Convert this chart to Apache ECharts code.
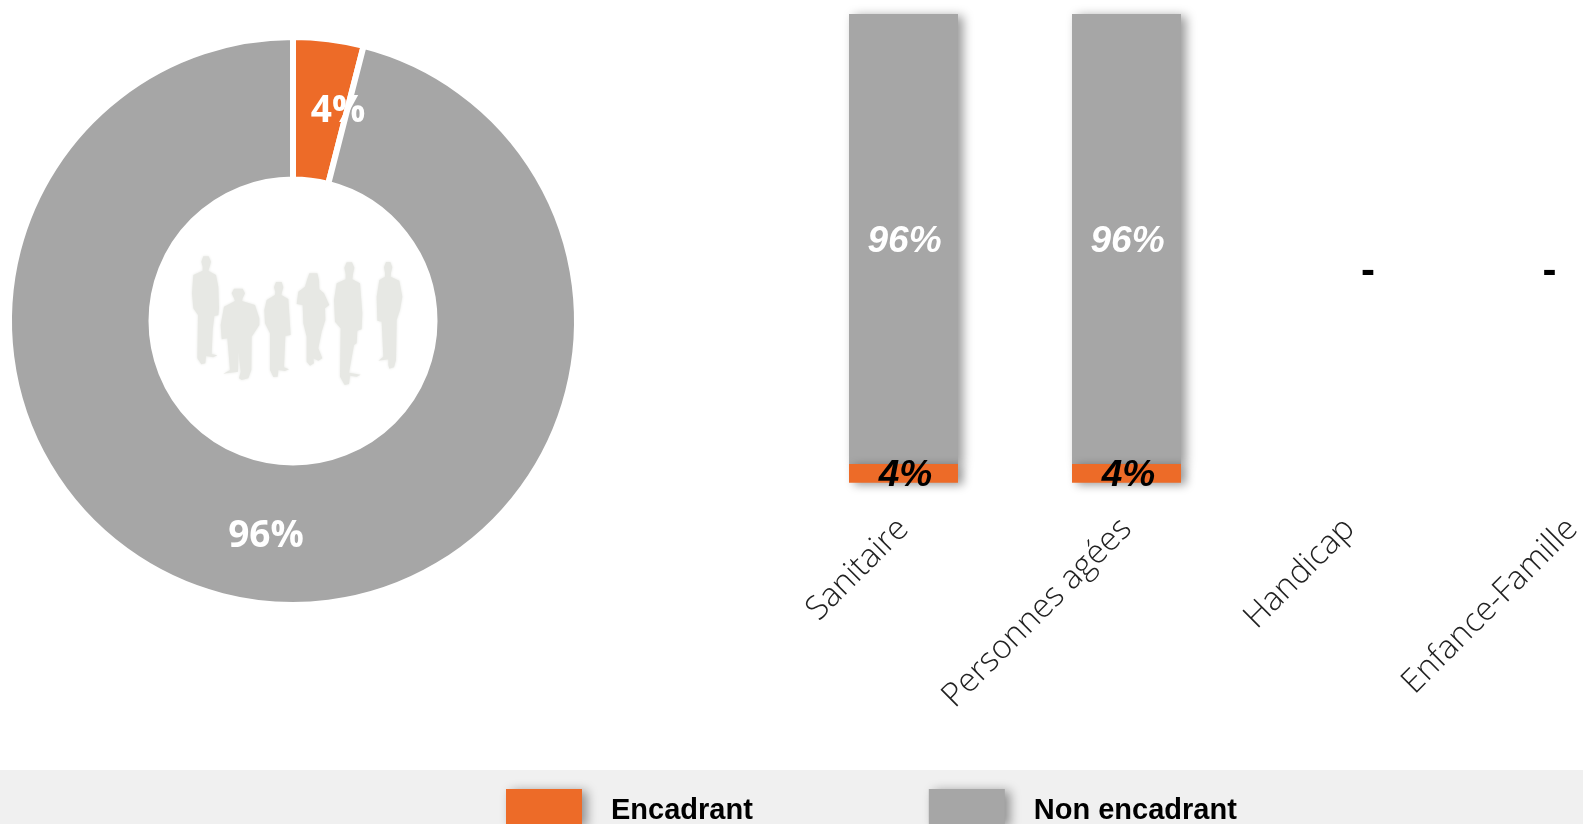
<!DOCTYPE html>
<html><head><meta charset="utf-8">
<style>html,body{margin:0;padding:0;background:#fff;overflow:hidden}#c{width:1583px;height:824px}</style>
<script src="https://cdn.jsdelivr.net/npm/echarts@6/dist/echarts.min.js"></script>
</head><body><div id="c"></div>
<script>
const seriesNames = ['Encadrant', 'Non encadrant'];
const overallValues = [4, 96];
const categories = ['Sanitaire', 'Personnes agées', 'Handicap', 'Enfance-Famille'];
const encadrantValues = [4, 4, 0, 0];
const nonEncadrantValues = [96, 96, 0, 0];
const ORANGE = '#ed6b28', GRAY = '#a6a6a6';

const silhouette = [
 [94,95, 100,79, 116,79, 123,95, 119,110, 115,122, 138,135, 145,170, 147,235, 145,256, 133,258, 128,300, 125,372, 142,376, 130,382, 108,378, 106,400, 94,403, 82,385, 84,255, 70,235, 66,190, 70,135, 98,122, 98,110],
 [185,190, 192,176, 218,176, 225,190, 218,205, 216,213, 255,225, 268,265, 268,285, 245,320, 244,420, 235,445, 215,450, 207,445, 212,425, 205,360, 204,425, 160,431, 180,420, 172,325, 155,328, 152,285, 162,230, 195,213, 192,205],
 [312,172, 318,156, 335,156, 340,172, 336,186, 334,195, 355,207, 362,315, 346,318, 342,412, 357,418, 345,423, 325,420, 323,440, 310,441, 300,420, 300,310, 285,280, 283,240, 290,210, 315,195, 316,186],
 [411,150, 418,130, 442,130, 447,150, 448,178, 462,190, 478,225, 465,235, 466,270, 455,305, 445,355, 457,385, 445,392, 430,385, 432,400, 420,407, 410,395, 410,320, 400,280, 398,225, 380,222, 385,185, 405,170],
 [523,113, 530,97, 546,97, 553,113, 549,132, 547,148, 570,160, 577,250, 575,298, 562,302, 560,340, 552,345, 537,428, 572,434, 560,440, 540,437, 537,462, 524,465, 510,440, 512,295, 495,275, 492,210, 500,160, 527,148, 527,132],
 [642,112, 648,96, 661,96, 667,112, 663,128, 662,140, 688,152, 697,200, 690,240, 680,270, 678,390, 672,412, 658,416, 655,405, 655,388, 625,392, 640,380, 635,275, 622,272, 620,200, 628,150, 645,140, 645,128]
];
const toPoints = a => { const r = []; for (let i = 0; i < a.length; i += 2) r.push([170 + a[i] / 3, 230 + a[i + 1] / 3]); return r; };

const barLabel = { show: true, fontFamily: 'Liberation Sans', fontWeight: 'bold', fontStyle: 'italic', fontSize: 37, formatter: p => p.value ? p.value + '%' : '' };
const shadow = { shadowColor: 'rgba(0,0,0,0.4)', shadowBlur: 10, shadowOffsetX: 5, shadowOffsetY: 2 };
const dashOffsets = [null, null, [18.5, -210], [-23, -210]];
const pieText = { fontFamily: 'Open Sans', fontWeight: 'bold', fontSize: 37, color: '#fff' };

const chart = echarts.init(document.getElementById('c'), null, { renderer: 'canvas' });
chart.setOption({
  animation: false,
  backgroundColor: '#fff',
  color: [ORANGE, GRAY],
  graphic: [
    { type: 'rect', z: -10, silent: true, shape: { x: 0, y: 770, width: 1583, height: 54 }, style: { fill: '#f0f0f0' } },
    ...silhouette.map(a => ({ type: 'polygon', silent: true, shape: { points: toPoints(a) }, style: { fill: '#e7e8e4', shadowColor: '#e7e8e4', shadowBlur: 3 } }))
  ],
  legend: {
    left: 506, top: 789, padding: 0, orient: 'horizontal',
    itemWidth: 76, itemHeight: 36, itemGap: 176,
    data: seriesNames,
    icon: 'rect',
    selectedMode: false,
    itemStyle: { borderWidth: 0, shadowColor: 'rgba(0,0,0,0.4)', shadowBlur: 10, shadowOffsetX: 5, shadowOffsetY: 2 },
    formatter: '{t|{name}}',
    textStyle: { rich: { t: { fontFamily: 'Liberation Sans', fontWeight: 'bold', fontSize: 29, color: '#000', padding: [8, 0, 0, 24] } } }
  },
  grid: { left: 903.5, top: 14, width: 669, height: 468.7, containLabel: false, outerBoundsMode: 'none' },
  xAxis: {
    type: 'category', data: categories, boundaryGap: false,
    axisLine: { show: false }, axisTick: { show: false },
    axisLabel: { interval: 0, rotate: 45, margin: 41, fontFamily: 'Open Sans', fontWeight: 300, fontSize: 33, color: '#222' }
  },
  yAxis: { type: 'value', min: 0, max: 100, show: false },
  series: [
    {
      name: seriesNames[0], type: 'bar', stack: 's', barWidth: 109, clip: false,
      data: encadrantValues,
      itemStyle: { color: ORANGE, ...shadow }, z: 3,
      label: { ...barLabel, position: 'inside', color: '#000', offset: [2, 2] }
    },
    {
      name: seriesNames[1], type: 'bar', stack: 's', barWidth: 109, clip: false,
      data: nonEncadrantValues.map((v, i) => dashOffsets[i]
        ? { value: v, label: { show: true, position: 'inside', offset: dashOffsets[i], formatter: '-', color: '#000', fontStyle: 'normal', fontSize: 42, fontWeight: 'bold', fontFamily: 'Liberation Sans' } }
        : v),
      itemStyle: { color: GRAY, ...shadow }, z: 2,
      label: { ...barLabel, position: 'inside', color: '#fff', offset: [1, 3] }
    },
    {
      type: 'pie', center: [293, 321], radius: [141.5, 284], startAngle: 90, clockwise: true,
      legendHoverLink: false, z: 1,
      itemStyle: { borderColor: '#fff', borderWidth: 6 },
      label: { show: true, position: 'inside' },
      labelLine: { show: false },
      data: [
        { name: seriesNames[0], value: overallValues[0], itemStyle: { color: ORANGE },
          label: { formatter: '{a|{c}%}', rich: { a: { ...pieText, padding: [10, 0, 0, 36] } } } },
        { name: seriesNames[1], value: overallValues[1], itemStyle: { color: GRAY },
          label: { formatter: '{a|{c}%}', rich: { a: { ...pieText, padding: [2, 0, 0, 0] } } } }
      ]
    }
  ]
});
</script></body></html>
